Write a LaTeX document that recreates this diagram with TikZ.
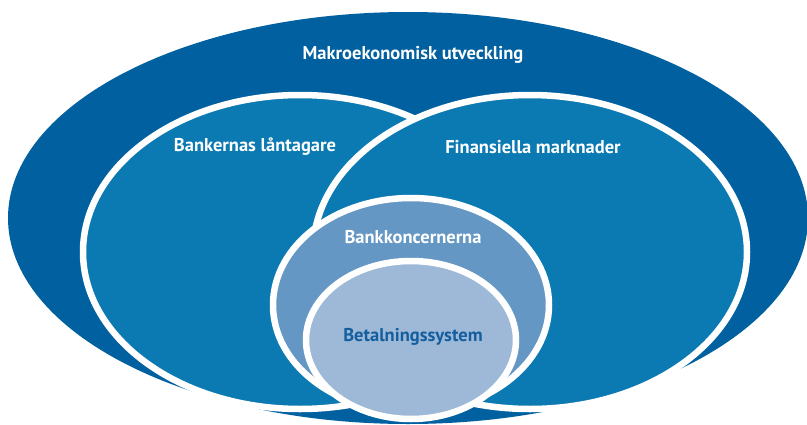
\documentclass[tikz,border=0pt]{standalone}
\usepackage{fontspec}
\setmainfont{PT Sans}
\usetikzlibrary{shapes.geometric}
\definecolor{makroblue}{RGB}{0,96,160}
\definecolor{midblue}{RGB}{11,122,178}
\definecolor{bankblue}{RGB}{100,151,196}
\definecolor{paleblue}{RGB}{157,185,215}
\definecolor{textblue}{RGB}{20,94,160}

\begin{document}
\begin{tikzpicture}
[every node/.style={inner sep=0pt}, x=1pt, y=-1pt]
\useasboundingbox (0,0) rectangle (807,424);
\node (makro) [ellipse, minimum width=800pt, minimum height=412pt, fill=makroblue] at (408.0, 218.0) {};
\node (laantagare) [ellipse, minimum width=434pt, minimum height=314pt, fill=midblue, line width=6.5pt, draw=white] at (300.0, 252.0) {};
\node (marknader) [ellipse, minimum width=434pt, minimum height=314pt, fill=midblue, line width=6.5pt, draw=white] at (530.0, 252.0) {};
\node (koncern) [ellipse, minimum width=276pt, minimum height=214pt, fill=bankblue, line width=6.5pt, draw=white] at (411.0, 305.0) {};
\node (betalning) [ellipse, minimum width=210pt, minimum height=158pt, fill=paleblue, line width=6.5pt, draw=white] at (411.0, 340.0) {};
\node (makrotext) [font=\fontsize{18.5}{20}\selectfont\bfseries] at (413.0, 55.0) {\textcolor{white}{Makroekonomisk utveckling}};
\node (laantext) [font=\fontsize{18.5}{20}\selectfont\bfseries] at (255.0, 147.0) {\textcolor{white}{Bankernas låntagare}};
\node (marktext) [font=\fontsize{18.5}{20}\selectfont\bfseries] at (533.0, 147.0) {\textcolor{white}{Finansiella marknader}};
\node (koncerntext) [font=\fontsize{18.5}{20}\selectfont\bfseries] at (413.0, 237.0) {\textcolor{white}{Bankkoncernerna}};
\node (betaltext) [font=\fontsize{18.5}{20}\selectfont\bfseries] at (413.0, 337.0) {\textcolor{textblue}{Betalningssystem}};
\end{tikzpicture}
\end{document}
